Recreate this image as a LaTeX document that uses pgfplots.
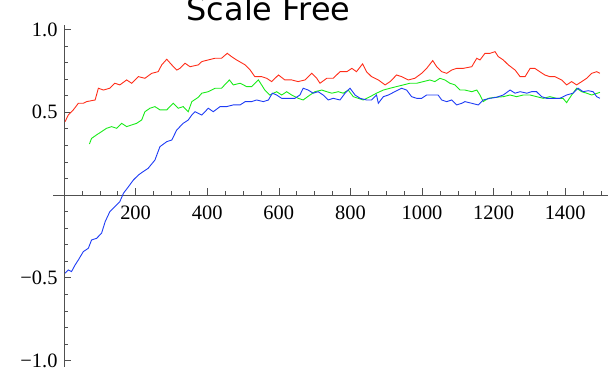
\documentclass[border=0pt]{standalone}
\usepackage{pgfplots}
\pgfplotsset{compat=1.18}
\usepackage{fontspec}
\setmainfont{Liberation Serif}
\newfontfamily\titlefont{DejaVu Sans}
\definecolor{mred}{RGB}{255,45,25}
\definecolor{mgreen}{RGB}{25,235,25}
\definecolor{mblue}{RGB}{30,60,245}
\definecolor{axgray}{RGB}{80,80,80}
\begin{document}
\begin{tikzpicture}
\useasboundingbox (-64bp,-182bp) rectangle (544bp,195bp);
\begin{axis}[
  at={(-10.74bp,-171.6bp)}, anchor=south west,
  scale only axis, width=554.9bp, height=341.6bp,
  xmin=-30, xmax=1520, ymin=-1.037, ymax=1.027,
  axis lines=middle, axis line style={-, axgray, line width=0.6bp},
  xtick={200,400,600,800,1000,1200,1400},
  xticklabels={200,400,600,800,1000,1200,1400},
  minor xtick={50,100,150,250,300,350,450,500,550,650,700,750,850,900,950,1050,1100,1150,1250,1300,1350,1450,1500},
  ytick={-1,-0.5,0.5,1},
  yticklabels={−1.0,−0.5,0.5,1.0},
  minor ytick={-0.9,-0.8,-0.7,-0.6,-0.4,-0.3,-0.2,-0.1,0.1,0.2,0.3,0.4,0.6,0.7,0.8,0.9},
  tick align=inside,
  major tick length=7bp, minor tick length=4bp,
  tick style={axgray, line width=0.6bp},
  tick label style={font=\fontsize{20.5}{24}\selectfont, text=black},
  xticklabel style={yshift=-7bp},
  yticklabel style={xshift=-3bp},
  clip=false,
]
\addplot[mred, line width=0.9bp] coordinates {
(3,0.443)(12,0.483)(26,0.514)(40,0.554)(54,0.554)(63,0.564)(87,0.574)(96,0.645)
(110,0.634)(128,0.645)(142,0.675)(156,0.665)(175,0.695)(189,0.675)(208,0.715)(226,0.705)
(245,0.735)(263,0.745)(273,0.786)(287,0.820)(301,0.786)(315,0.755)(324,0.765)(338,0.796)
(352,0.775)(375,0.786)(385,0.806)(403,0.816)(422,0.826)(440,0.826)(456,0.856)(468,0.836)
(482,0.816)(506,0.786)(520,0.755)(533,0.715)(552,0.715)(566,0.705)(580,0.685)(599,0.725)
(617,0.695)(636,0.695)(654,0.685)(673,0.695)(692,0.735)(706,0.705)(715,0.675)(734,0.705)
(752,0.705)(771,0.745)(790,0.745)(804,0.765)(817,0.745)(834,0.792)(845,0.745)(859,0.715)
(878,0.695)(897,0.665)(911,0.685)(929,0.725)(943,0.715)(962,0.695)(980,0.705)(999,0.735)
(1013,0.765)(1030,0.812)(1041,0.775)(1055,0.745)(1069,0.735)(1083,0.755)(1097,0.765)(1115,0.765)
(1139,0.775)(1153,0.826)(1162,0.816)(1176,0.856)(1190,0.856)(1204,0.866)(1213,0.836)(1227,0.816)
(1241,0.786)(1260,0.755)(1274,0.715)(1288,0.715)(1302,0.765)(1315,0.765)(1329,0.745)(1343,0.725)
(1357,0.715)(1371,0.715)(1390,0.695)(1404,0.665)(1418,0.685)(1432,0.665)(1446,0.685)(1460,0.705)
(1474,0.735)(1488,0.745)(1497,0.735)
};
\addplot[mgreen, line width=0.9bp] coordinates {
(71,0.308)(77,0.342)(91,0.363)(105,0.383)(119,0.403)(133,0.413)(147,0.403)(161,0.433)
(175,0.413)(189,0.423)(203,0.433)(217,0.453)(226,0.503)(240,0.524)(254,0.534)(268,0.514)
(287,0.514)(305,0.554)(319,0.524)(333,0.534)(347,0.503)(357,0.564)(375,0.590)(385,0.615)
(403,0.624)(422,0.645)(440,0.645)(462,0.695)(473,0.665)(492,0.675)(510,0.655)(524,0.655)
(543,0.695)(552,0.665)(561,0.634)(575,0.604)(594,0.624)(608,0.604)(622,0.624)(636,0.604)
(654,0.584)(668,0.574)(687,0.604)(701,0.624)(720,0.634)(734,0.624)(748,0.615)(766,0.624)
(780,0.615)(794,0.634)(808,0.594)(822,0.584)(836,0.574)(855,0.594)(873,0.615)(892,0.634)
(911,0.645)(929,0.655)(948,0.665)(966,0.675)(985,0.675)(1004,0.685)(1022,0.695)(1036,0.685)
(1050,0.705)(1064,0.695)(1078,0.675)(1092,0.665)(1106,0.634)(1120,0.634)(1139,0.624)(1153,0.634)
(1162,0.604)(1171,0.564)(1185,0.584)(1204,0.590)(1227,0.594)(1246,0.604)(1264,0.594)(1283,0.604)
(1302,0.604)(1320,0.594)(1339,0.584)(1357,0.594)(1376,0.584)(1394,0.584)(1404,0.558)(1418,0.604)
(1432,0.645)(1446,0.624)(1460,0.615)(1474,0.604)(1497,0.620)
};
\addplot[mblue, line width=0.9bp] coordinates {
(3,-0.473)(12,-0.453)(21,-0.463)(31,-0.423)(40,-0.393)(54,-0.342)(68,-0.322)(77,-0.272)
(91,-0.262)(105,-0.231)(115,-0.161)(128,-0.101)(142,-0.070)(156,-0.040)(166,0.010)(180,0.050)
(194,0.091)(208,0.121)(221,0.141)(235,0.161)(254,0.211)(268,0.292)(287,0.322)(301,0.332)
(315,0.393)(333,0.433)(347,0.453)(357,0.483)(366,0.503)(385,0.483)(403,0.524)(417,0.503)
(436,0.534)(454,0.534)(473,0.544)(492,0.544)(506,0.564)(524,0.564)(538,0.574)(557,0.564)
(571,0.574)(582,0.615)(594,0.604)(608,0.584)(626,0.584)(645,0.584)(659,0.604)(668,0.645)
(682,0.634)(696,0.615)(710,0.624)(724,0.604)(738,0.574)(752,0.584)(771,0.574)(785,0.615)
(799,0.645)(813,0.604)(827,0.584)(845,0.574)(859,0.574)(873,0.604)(878,0.554)(892,0.594)
(906,0.604)(924,0.624)(943,0.645)(957,0.634)(971,0.594)(985,0.584)(999,0.584)(1013,0.604)
(1031,0.604)(1045,0.604)(1055,0.574)(1069,0.564)(1083,0.574)(1097,0.544)(1111,0.554)(1120,0.564)
(1139,0.554)(1157,0.544)(1171,0.574)(1190,0.584)(1208,0.590)(1227,0.604)(1246,0.634)(1260,0.615)
(1274,0.624)(1293,0.615)(1306,0.624)(1320,0.624)(1334,0.594)(1348,0.584)(1367,0.584)(1385,0.584)
(1404,0.604)(1422,0.615)(1436,0.645)(1450,0.624)(1464,0.630)(1478,0.624)(1488,0.594)(1497,0.584)
};
\end{axis}
\node[anchor=base, font=\titlefont\fontsize{32}{36}\selectfont] at (204.5bp,174bp) {Scale Free};
\end{tikzpicture}
\end{document}
